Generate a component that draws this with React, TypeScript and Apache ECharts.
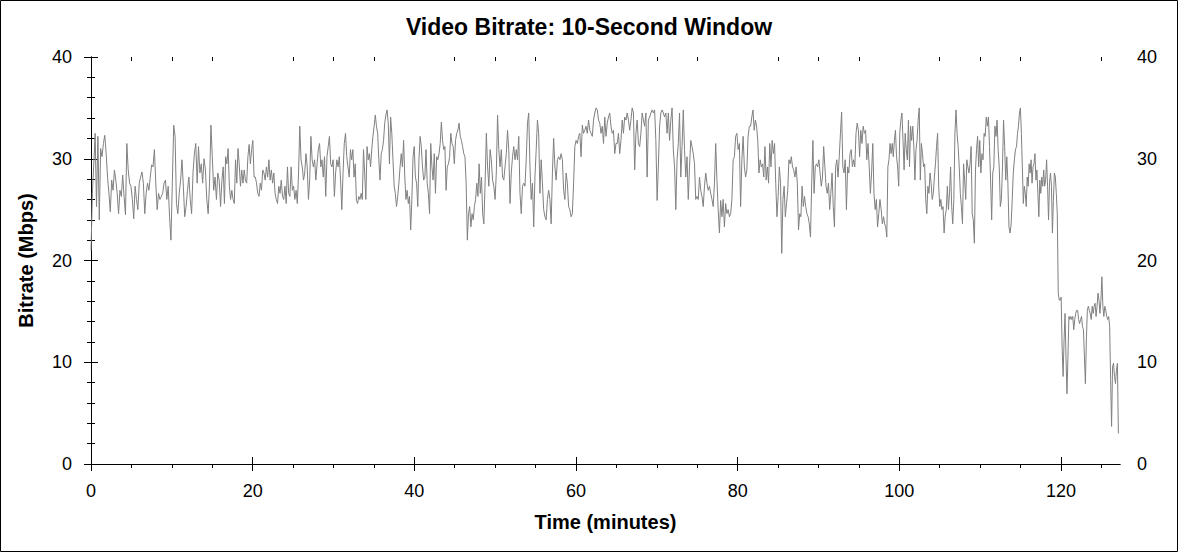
import React, { useEffect, useRef } from "react";
import * as echarts from "echarts";

// Bitrate samples (Mbps), grouped by time segment.
const seg1 = [21, 26.6, 29.4, 32.5, 25.3, 32.2, 24.0, 31.0, 30.2, 31.5, 32.3, 30.5, 28.2, 26.6, 24.8, 27.9, 26.9, 28.9, 27.9, 26.6, 24.6, 26.9, 26.3, 28.4, 26.3, 24.5, 31.5, 28.9, 27.6, 27.3, 26.0, 24.1, 27.3, 26.0, 25.0, 27.6, 28.2, 28.7, 27.6, 24.6, 26.6, 27.6, 26.9, 28.2, 29.4, 29.2, 30.9, 27.6, 25.0, 26.6, 26.0, 26.3, 26.6, 27.6, 27.9, 26.0, 27.3, 24.3, 22.0, 27.6, 33.3, 32.2, 25.6, 24.6, 26.6, 27.9, 29.9, 27.3, 24.3, 25.3, 26.9, 28.2, 26.0, 24.6, 28.6, 30.5, 31.5, 27.6, 31.2, 28.6, 29.5, 27.6, 30.0, 28.9, 26.0, 24.6, 27.6, 33.3, 30.2, 26.9, 28.2, 26.0, 28.6, 27.9, 25.3];
const seg2 = [27.9, 29.2, 25.6, 30.2, 29.5, 31.0, 27.3, 26.0, 26.9, 26.0, 25.6, 29.9, 27.6, 31.0, 29.4, 27.3, 28.9, 27.6, 28.9, 27.9, 27.6, 30.2, 31.4, 29.5, 30.9, 31.8, 28.2, 28.2, 27.6, 26.6, 26.3, 27.6, 26.9, 28.9, 28.6, 27.9, 29.2, 28.2, 29.9, 27.9, 28.9, 27.6, 28.6, 26.6, 26.0, 25.6, 27.3, 26.6, 27.9, 26.3, 26.0, 27.3, 25.6, 29.2, 26.6, 26.3, 29.2, 26.9, 27.3, 26.0, 26.9, 25.6, 28.6, 33.2, 29.9, 29.2, 27.9, 28.6, 30.5, 29.2, 26.0, 27.9, 32.2, 29.9, 29.2, 29.9, 27.9, 29.5, 30.9, 31.5, 29.2, 29.9, 28.2, 30.2, 26.3, 30.2, 31.2, 32.2, 29.5, 29.2, 29.9, 26.3, 28.6, 29.9, 29.2, 30.2, 27.9, 25.0, 28.6, 31.5, 32.5, 30.2, 29.2, 28.2, 30.9];
const seg3 = [29.9, 30.9, 28.2, 29.5, 25.9, 25.6, 26.3, 26.0, 26.6, 26.0, 30.9, 28.6, 26.0, 31.2, 29.9, 30.5, 29.2, 30.9, 32.2, 33.2, 34.3, 33.2, 32.5, 29.9, 27.9, 30.5, 30.9, 31.8, 33.5, 34.3, 34.8, 33.5, 29.5, 34.1, 32.5, 29.9, 27.3, 26.6, 25.3, 26.3, 27.6, 29.2, 30.5, 29.2, 31.8, 28.2, 26.0, 26.9, 25.6, 26.3, 23.0, 26.0, 30.2, 31.2, 28.2, 27.6, 25.3, 29.9, 32.2, 31.2, 29.2, 27.9, 28.2, 30.9, 27.6, 26.6, 24.6, 31.5, 29.2, 27.9, 30.5, 26.6, 30.2, 29.9, 30.5, 31.5, 33.6, 31.8, 30.9, 31.2, 26.9, 29.2, 29.5, 30.2, 32.5, 31.5, 31.2, 29.5, 31.8, 32.5, 32.8, 33.5, 32.2, 31.8, 31.2, 30.5, 30.2, 27.6, 22.0, 24.6, 25.3, 23.3, 24.6, 24.0, 25.3, 26.0, 27.6, 26.3, 29.5, 26.6, 28.2, 24.6];
const seg4 = [23.6, 27.6, 32.5, 29.2, 27.3, 30.9, 29.9, 27.9, 27.3, 26.0, 28.6, 34.3, 30.9, 29.2, 30.9, 28.2, 27.9, 29.2, 30.5, 32.8, 30.9, 25.6, 28.6, 30.2, 31.2, 29.9, 30.9, 29.9, 32.2, 26.6, 24.6, 27.3, 27.6, 27.3, 29.9, 33.5, 34.5, 29.2, 26.0, 27.6, 23.3, 28.2, 30.9, 33.8, 32.5, 26.6, 29.9, 27.6, 25.0, 24.3, 24.0, 26.0, 26.9, 26.0, 23.6, 28.6, 32.0, 29.2, 27.9, 29.9, 30.2, 29.9, 30.5, 29.9, 26.9, 26.0, 28.6, 27.6, 25.3, 25.0, 24.3, 24.6, 27.6, 31.2, 31.8, 31.5, 32.2, 32.5, 30.2, 33.3, 32.5, 32.8, 33.2, 32.5, 33.8, 32.8, 32.5, 32.2, 33.8, 34.5, 35.0, 34.8, 33.8, 33.5, 32.5, 33.2, 31.5, 34.1, 32.2, 33.5, 34.1, 34.5, 33.2, 32.5, 32.8, 30.5, 31.5];
const seg5 = [31.5, 32.5, 30.5, 31.8, 33.8, 32.5, 34.1, 33.8, 34.5, 33.8, 32.8, 33.8, 35.0, 34.5, 28.9, 32.5, 33.8, 31.5, 31.2, 32.5, 34.5, 33.8, 33.2, 34.5, 28.2, 33.8, 34.1, 34.5, 34.8, 34.5, 34.8, 31.8, 25.9, 29.2, 33.2, 34.5, 34.8, 34.5, 34.1, 34.5, 32.5, 34.5, 31.8, 33.8, 35.0, 30.9, 29.2, 25.0, 29.9, 31.5, 34.5, 28.2, 31.2, 34.8, 30.9, 28.2, 30.2, 26.0, 29.2, 31.8, 31.2, 30.5, 29.5, 26.0, 26.3, 26.0, 28.2, 26.9, 26.3, 25.3, 27.3, 28.6, 27.6, 26.9, 27.3, 26.6, 26.0, 25.3, 27.6, 31.5, 27.9, 25.0, 22.7, 25.9, 24.3, 26.0, 23.3, 25.6, 24.6, 25.0, 24.3, 24.6, 26.0, 29.9, 30.2, 32.2, 32.5, 30.9, 31.5, 25.3, 29.9, 32.2, 29.2, 28.2, 28.9, 32.2, 33.2];
const seg6 = [33.2, 34.1, 34.8, 32.8, 33.8, 33.2, 31.8, 28.6, 29.9, 29.2, 29.5, 28.2, 31.2, 27.9, 29.2, 27.6, 31.5, 29.2, 31.8, 30.5, 31.5, 27.6, 24.3, 26.3, 29.2, 27.6, 20.7, 26.0, 27.3, 24.3, 25.6, 26.9, 29.9, 29.5, 30.2, 29.2, 28.9, 28.2, 29.2, 27.6, 23.0, 24.6, 24.3, 27.3, 25.3, 26.3, 25.3, 24.6, 24.3, 23.6, 22.3, 27.6, 31.8, 26.6, 29.2, 29.5, 29.2, 29.9, 28.6, 27.3, 28.2, 31.2, 29.2, 27.3, 26.6, 27.6, 25.0, 26.6, 28.6, 25.3, 23.3, 29.2, 29.9, 28.2, 30.2, 32.5, 34.6, 29.2, 28.6, 29.9, 25.0, 29.2, 28.6, 30.5, 30.9, 29.2, 29.9, 29.2, 32.5, 33.5, 32.8, 30.2, 32.8, 31.5, 33.2, 32.5, 32.8, 29.9, 31.5, 29.2, 26.6, 28.6, 31.5, 26.6, 25.0, 26.0, 23.3, 24.6, 26.0, 25.0, 23.6];
const seg7 = [24.3, 23.6, 23.3, 22.3, 29.2, 29.9, 31.5, 30.5, 31.5, 30.2, 31.8, 32.8, 30.2, 29.2, 27.3, 32.5, 33.8, 34.5, 31.8, 28.9, 32.5, 30.9, 29.9, 33.8, 29.2, 33.2, 31.8, 33.2, 31.2, 27.9, 30.9, 31.8, 33.8, 35.0, 27.9, 31.5, 30.5, 29.2, 29.5, 26.0, 24.6, 27.3, 26.6, 28.6, 27.6, 26.0, 26.6, 28.2, 29.5, 31.2, 32.5, 27.3, 25.3, 26.0, 25.0, 25.3, 22.7, 24.3, 25.0, 27.3, 25.0, 26.6, 29.2, 25.3, 23.6, 26.0, 32.5, 34.8, 32.5, 31.2, 29.2, 26.6, 25.3, 23.6, 29.5, 27.9, 26.0, 29.9, 29.2, 28.6, 29.5, 31.2, 24.6, 24.0, 21.7, 28.9, 30.9, 32.2, 29.2, 31.8, 28.6, 30.5, 29.9, 32.5, 32.2, 34.1, 33.2, 34.1, 31.2, 27.9, 24.0, 28.6, 29.2, 33.2, 32.2, 33.8, 30.9, 29.2, 25.3, 26.0, 29.2, 33.8, 31.2, 27.9, 30.2, 27.6, 23.3, 22.7, 23.6, 26.0, 28.6, 29.9, 30.9];
const seg8 = [31.2, 32.5, 33.2, 34.5, 35.0, 32.5, 29.2, 25.6, 27.3, 26.6, 25.3, 28.2, 27.3, 29.5, 28.6, 29.9, 27.6, 29.2, 29.5, 30.5, 27.9, 28.9, 26.6, 24.3, 27.9, 26.6, 28.2, 27.3, 28.9, 27.3, 27.9, 29.9, 27.3, 24.0, 27.6, 28.6, 27.3, 22.7, 25.9, 28.6, 28.2, 26.6, 24.6, 16.8, 16.1, 16.1, 16.4, 11.5, 8.6, 12.2, 14.8, 10.5, 6.9, 10.5, 14.5, 14.2, 14.5, 14.2, 14.5, 13.2, 14.2, 14.8, 15.1, 15.1, 14.2, 13.8, 14.2, 14.5, 13.5, 13.2, 10.5, 7.9, 12.2, 15.1, 15.5, 15.1, 14.8, 14.2, 15.5, 14.8, 15.5, 15.8, 14.5, 15.5, 16.8, 16.1, 14.8, 16.1, 18.4, 15.5, 14.5, 15.5, 15.1, 14.5, 14.2, 14.5, 13.5, 8.3, 3.7, 9.6, 9.9, 8.6, 7.9, 9.2, 9.9, 3.0];

const segments = [seg1, seg2, seg3, seg4, seg5, seg6, seg7, seg8];
// Segment boundaries in minutes
const segBounds = [0, 16.2, 32.25, 48.6, 65.1, 81.6, 98.05, 114.5, 127.1];

const xMajorTicks = [0, 20, 40, 60, 80, 100, 120];
const xMinorTicks = [5, 10, 15, 25, 30, 35, 45, 50, 55, 65, 70, 75, 85, 90, 95, 105, 110, 115, 125];
const X_MAX = 127.3;
const Y_MIN = 0;
const Y_MAX = 40;
const Y_STEP = 10;

const TITLE = "Video Bitrate: 10-Second Window";
const X_NAME = "Time (minutes)";
const Y_NAME = "Bitrate (Mbps)";

const FONT = "'Liberation Sans', Arial, Helvetica, sans-serif";

function buildPoints(): [number, number][] {
  const pts: [number, number][] = [];
  segments.forEach((vals, k) => {
    const a = segBounds[k];
    const b = segBounds[k + 1];
    const last = k === segments.length - 1;
    const div = last ? vals.length - 1 : vals.length;
    vals.forEach((v, i) => {
      pts.push([+(a + ((b - a) * i) / div).toFixed(3), v]);
    });
  });
  return pts;
}

export default function App() {
  const ref = useRef<HTMLDivElement>(null);
  useEffect(() => {
    if (!ref.current) return;
    const chart = echarts.init(ref.current, undefined, { renderer: "svg" });
    const black = "#000000";
    const baseX = {
      type: "value" as const,
      min: 0,
      max: X_MAX,
      gridIndex: 0,
      offset: 0,
      splitLine: { show: false },
      axisLabel: { show: false },
    };
    const baseY = {
      type: "value" as const,
      min: Y_MIN,
      max: Y_MAX,
      interval: Y_STEP,
      gridIndex: 0,
      offset: 0,
      splitLine: { show: false },
      axisLabel: { show: false },
    };
    const option: any = {
      animation: false,
      backgroundColor: "#ffffff",
      title: {
        text: TITLE,
        left: "center",
        top: 15,
        padding: 0,
        textStyle: { fontSize: 23, fontWeight: "bold", color: black, fontFamily: FONT },
      },
      graphic: [
        {
          type: "rect",
          silent: true,
          shape: { x: 0.5, y: 0.5, width: 1177, height: 551 },
          style: { fill: "none", stroke: black, lineWidth: 1 },
        },
      ],
      grid: { left: 91, right: 58, top: 57, bottom: 88, containLabel: false },
      xAxis: [
        {
          ...baseX,
          position: "bottom",
          interval: 20,
          axisLine: { show: true, lineStyle: { color: black, width: 1 } },
          axisTick: { show: true, inside: false, length: 7, customValues: xMajorTicks, lineStyle: { color: black } },
          axisLabel: {
            show: true,
            customValues: xMajorTicks,
            fontSize: 18,
            color: black,
            fontFamily: FONT,
            margin: 18,
          },
          name: X_NAME,
          nameLocation: "middle",
          nameGap: 48,
          nameTextStyle: { fontSize: 20, fontWeight: "bold", color: black, fontFamily: FONT },
        },
        {
          ...baseX,
          position: "bottom",
          interval: 20,
          axisLine: { show: false },
          axisTick: { show: true, inside: true, length: 7, customValues: xMajorTicks, lineStyle: { color: black } },
        },
        {
          ...baseX,
          position: "bottom",
          interval: 5,
          axisLine: { show: false },
          axisTick: { show: true, inside: false, length: 4, customValues: xMinorTicks, lineStyle: { color: black } },
        },
        {
          ...baseX,
          position: "top",
          interval: 20,
          axisLine: { show: true, lineStyle: { color: black, width: 1 } },
          axisTick: { show: true, inside: true, length: 7, customValues: xMajorTicks, lineStyle: { color: black } },
        },
        {
          ...baseX,
          position: "top",
          interval: 5,
          axisLine: { show: false },
          axisTick: { show: true, inside: true, length: 4, customValues: xMinorTicks, lineStyle: { color: black } },
        },
      ],
      yAxis: [
        {
          ...baseY,
          position: "left",
          axisLine: { show: true, lineStyle: { color: black, width: 1 } },
          axisTick: { show: true, inside: false, length: 7, lineStyle: { color: black } },
          minorTick: { show: true, splitNumber: 5, length: 4, lineStyle: { color: black } },
          axisLabel: { show: true, fontSize: 18, color: black, fontFamily: FONT, margin: 19 },
          name: Y_NAME,
          nameLocation: "middle",
          nameRotate: 90,
          nameGap: 55,
          nameTextStyle: { fontSize: 20, fontWeight: "bold", color: black, fontFamily: FONT },
        },
        {
          ...baseY,
          position: "left",
          axisLine: { show: false },
          axisTick: { show: true, inside: true, length: 7, lineStyle: { color: black } },
          minorTick: { show: true, splitNumber: 5, length: 4, lineStyle: { color: black } },
        },
        {
          ...baseY,
          position: "right",
          axisLine: { show: true, lineStyle: { color: black, width: 1 } },
          axisTick: { show: true, inside: false, length: 7, lineStyle: { color: black } },
          minorTick: { show: true, splitNumber: 5, length: 4, lineStyle: { color: black } },
          axisLabel: { show: true, fontSize: 18, color: black, fontFamily: FONT, margin: 17 },
        },
        {
          ...baseY,
          position: "right",
          axisLine: { show: false },
          axisTick: { show: true, inside: true, length: 7, lineStyle: { color: black } },
          minorTick: { show: true, splitNumber: 5, length: 4, lineStyle: { color: black } },
        },
      ],
      series: [
        {
          type: "line",
          xAxisIndex: 0,
          yAxisIndex: 0,
          data: buildPoints(),
          showSymbol: false,
          symbol: "none",
          silent: true,
          lineStyle: { color: "#808080", width: 1 },
          z: 1,
        },
      ],
    };
    chart.setOption(option);
    return () => chart.dispose();
  }, []);
  return (
    <div
      ref={ref}
      style={{ position: "absolute", left: 0, top: 0, width: 1178, height: 552, background: "#fff" }}
    />
  );
}
